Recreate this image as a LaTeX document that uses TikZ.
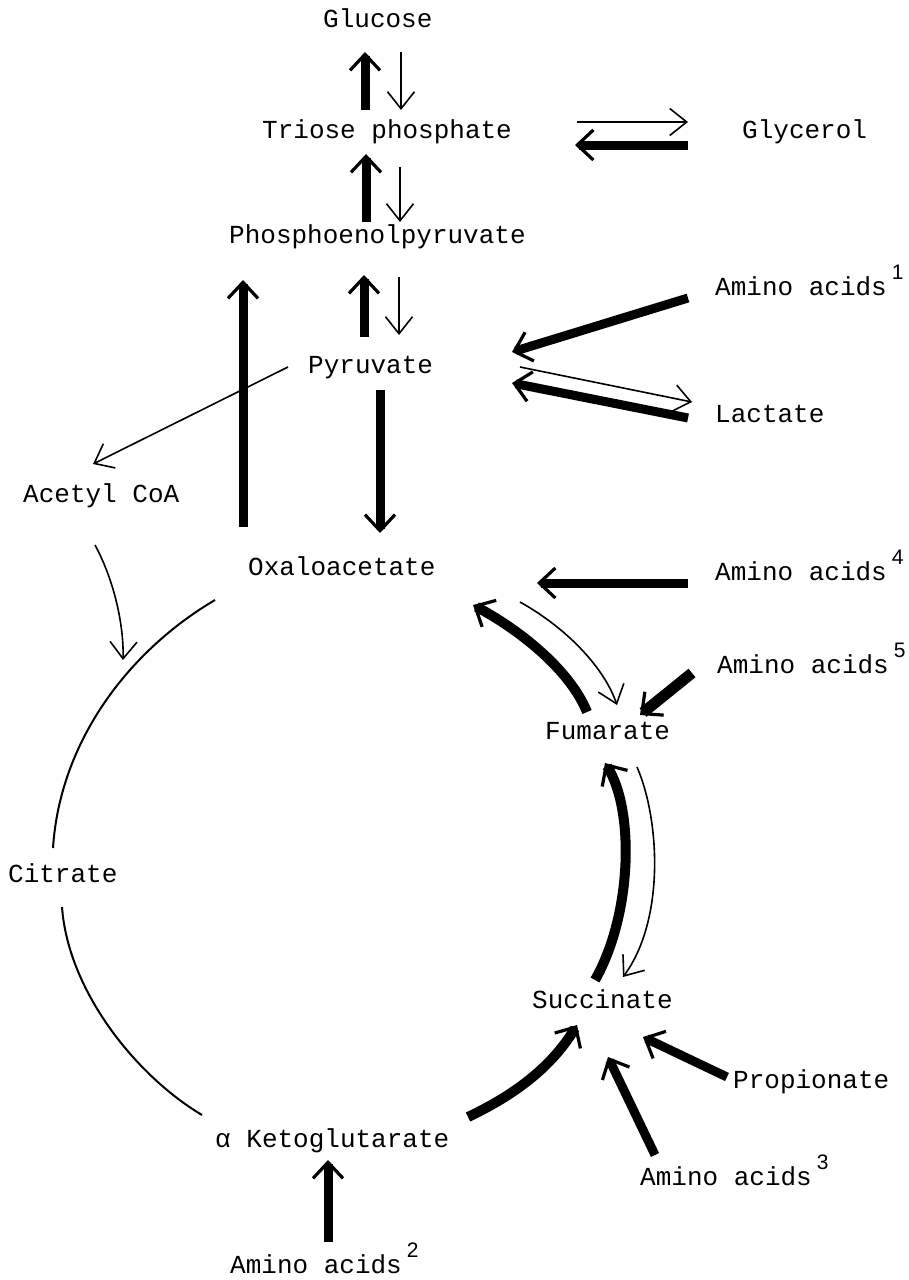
\documentclass[tikz,border=0pt]{standalone}
\usepackage{fontspec}
\newfontfamily\monofam{Liberation Mono}
\newfontfamily\supfam{Liberation Sans}
\usetikzlibrary{arrows.meta}
% superscript index after a label
\newcommand\supidx[1]{\hspace{5pt}\raisebox{16pt}{\supfam\fontsize{21}{21}\selectfont #1}}

\begin{document}
\begin{tikzpicture}[x=1pt,y=-1pt,
  metab/.style={anchor=base west, inner sep=0pt, font=\monofam\fontsize{26}{26}\selectfont},
  thinarrow/.style={line width=1.6pt, -{Straight Barb[length=17pt,width=27pt,line width=1.6pt]}},
  bigarrow/.style={line width=9pt, line cap=butt, -{Straight Barb[length=16pt,width=30pt,line width=3.2pt]}},
  ring/.style={line width=2pt}]

\fill[white] (0,0) rectangle (909,1280);
\useasboundingbox (0,0) rectangle (909,1280);

% metabolites
\node[metab] (glu) at (323,27)  {Glucose};
\node[metab] (tri) at (262,138) {Triose phosphate};
\node[metab] (gly) at (742,138) {Glycerol};
\node[metab] (pep) at (229,243) {Phosphoenolpyruvate};
\node[metab] (aa1) at (715,295) {Amino acids\supidx{1}};
\node[metab] (pyr) at (308,373) {Pyruvate};
\node[metab] (lac) at (715,422) {Lactate};
\node[metab] (acc) at (23,502)  {Acetyl CoA};
\node[metab] (oaa) at (248,575) {Oxaloacetate};
\node[metab] (aa4) at (715,580) {Amino acids\supidx{4}};
\node[metab] (aa5) at (717,673) {Amino acids\supidx{5}};
\node[metab] (fum) at (545,739) {Fumarate};
\node[metab] (cit) at (8,882)   {Citrate};
\node[metab] (suc) at (532,1008) {Succinate};
\node[metab] (pro) at (733,1088) {Propionate};
\node[metab] (akg) at (215,1147) {α Ketoglutarate};
\node[metab] (aa3) at (640,1185) {Amino acids\supidx{3}};
\node[metab] (aa2) at (230,1273) {Amino acids\supidx{2}};

% glycolysis / gluconeogenesis
\draw[bigarrow]  ([shift={(103,-28)}]tri.base west) -- ([shift={(42,25)}]glu.base west);
\draw[thinarrow] ([shift={(78,25)}]glu.base west) -- ([shift={(139,-28)}]tri.base west);
\draw[bigarrow]  ([shift={(137,-21)}]pep.base west) -- ([shift={(104,16)}]tri.base west);
\draw[thinarrow] ([shift={(138,29)}]tri.base west) -- ([shift={(171,-21)}]pep.base west);
\draw[thinarrow] ([shift={(315,-16)}]tri.base west) -- ([shift={(-54,-16)}]gly.base west);
\draw[bigarrow]  ([shift={(-54,7)}]gly.base west) -- ([shift={(313,7)}]tri.base west);
\draw[bigarrow]  ([shift={(56,-36)}]pyr.base west) -- ([shift={(135,32)}]pep.base west);
\draw[thinarrow] ([shift={(170,34)}]pep.base west) -- ([shift={(91,-38)}]pyr.base west);
\draw[bigarrow]  ([shift={(-5,-48)}]oaa.base west) -- ([shift={(14,37)}]pep.base west);
\draw[bigarrow]  ([shift={(72,17)}]pyr.base west) -- ([shift={(132,-42)}]oaa.base west);
\draw[thinarrow] ([shift={(-20,-6)}]pyr.base west) -- ([shift={(70,-38)}]acc.base west);

% side inputs at pyruvate
\draw[bigarrow]  ([shift={(-27,3)}]aa1.base west) -- ([shift={(204,-21)}]pyr.base west);
\draw[thinarrow] ([shift={(212,-6)}]pyr.base west) -- ([shift={(-23,-20)}]lac.base west);
\draw[bigarrow]  ([shift={(-27,-4)}]lac.base west) -- ([shift={(204,10)}]pyr.base west);

% citric acid cycle
\coordinate (join) at (123,660);
\draw[thinarrow] ([shift={(72,43)}]acc.base west) .. controls (114,580) and (124,625) .. (join);
\draw[ring] ([shift={(-33,25)}]oaa.base west) .. controls (130,650) and (60,740) .. ([shift={(45,-34)}]cit.base west);
\draw[ring] ([shift={(54,25)}]cit.base west) .. controls (68,990) and (135,1075) .. ([shift={(-13,-32)}]akg.base west);

\draw[bigarrow]  ([shift={(-27,3)}]aa4.base west) -- ([shift={(289,8)}]oaa.base west);
\draw[bigarrow, line width=10pt] ([shift={(42,-27)}]fum.base west) .. controls (570,670) and (520,630) .. ([shift={(225,30)}]oaa.base west);
\draw[thinarrow] ([shift={(272,27)}]oaa.base west) .. controls (570,630) and (605,670) .. ([shift={(72,-34)}]fum.base west);
\draw[bigarrow, line width=11pt] ([shift={(-25,0)}]aa5.base west) -- ([shift={(95,-24)}]fum.base west);

\draw[bigarrow, line width=10pt] ([shift={(63,-28)}]suc.base west) .. controls (632,915) and (635,810) .. ([shift={(60,24)}]fum.base west);
\draw[thinarrow] ([shift={(92,28)}]fum.base west) .. controls (660,820) and (665,920) .. ([shift={(91,-31)}]suc.base west);

\draw[bigarrow, line width=10pt] ([shift={(253,-30)}]akg.base west) .. controls (510,1097) and (550,1070) .. ([shift={(45,17)}]suc.base west);
\draw[bigarrow]  ([shift={(-6,-11)}]pro.base west) -- ([shift={(111,29)}]suc.base west);
\draw[bigarrow]  ([shift={(15,-30)}]aa3.base west) -- ([shift={(76,49)}]suc.base west);
\draw[bigarrow]  ([shift={(98,-31)}]aa2.base west) -- ([shift={(113,13)}]akg.base west);
\end{tikzpicture}
\end{document}
